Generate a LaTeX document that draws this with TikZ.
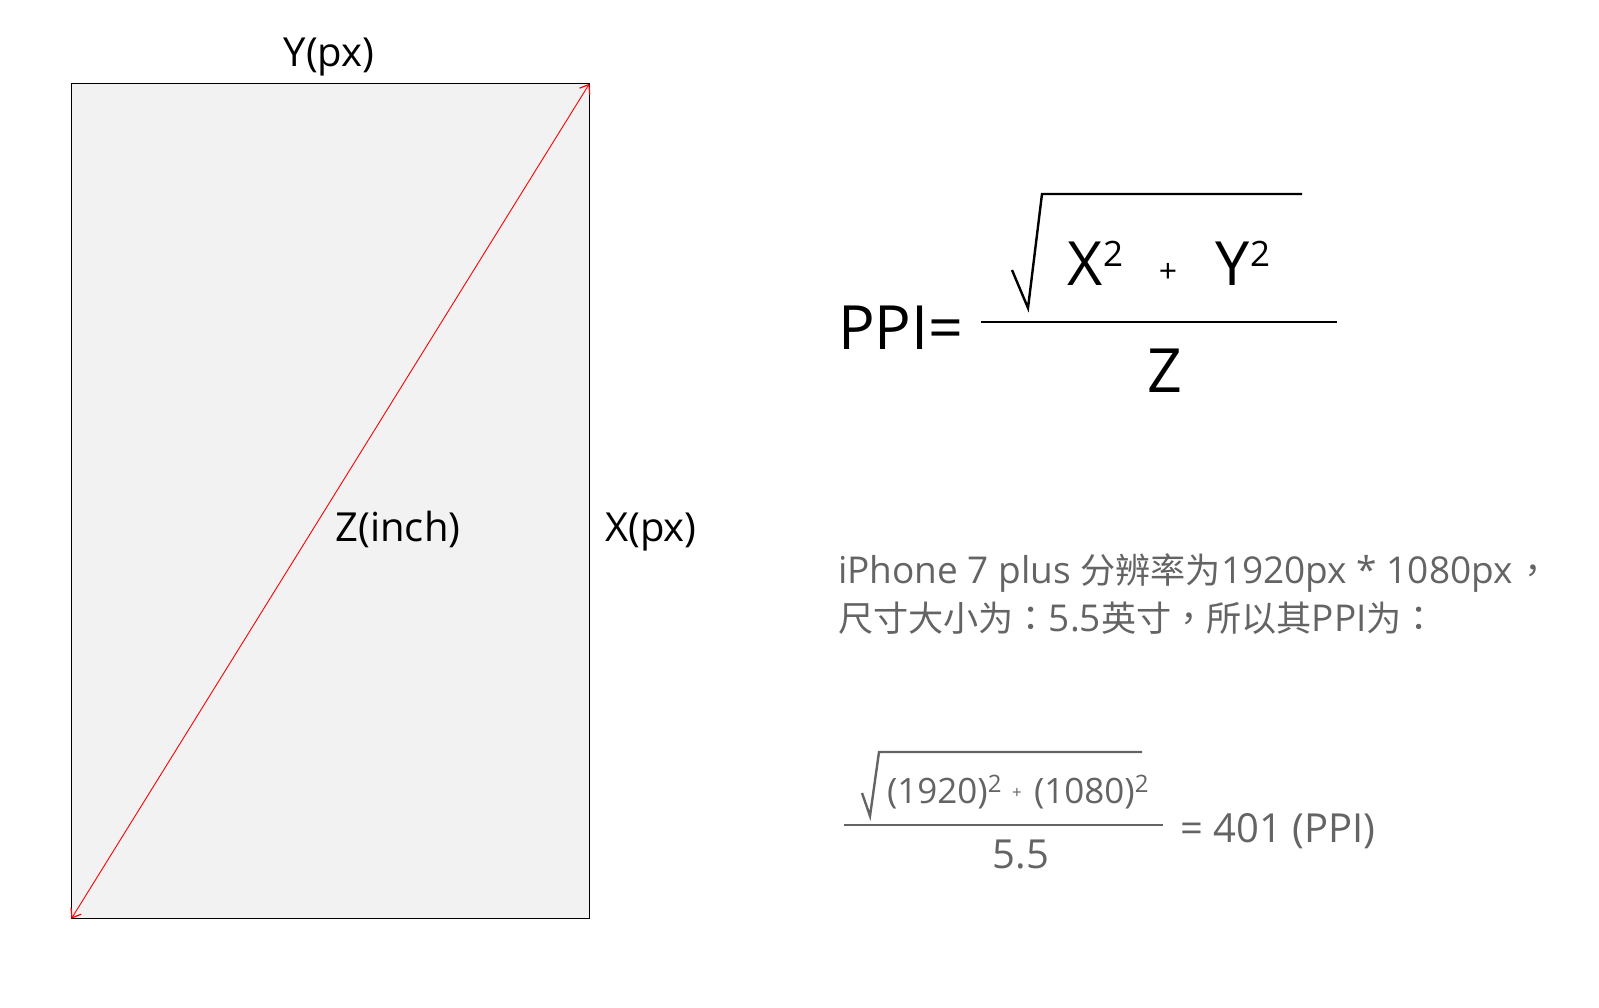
\documentclass[tikz,border=0pt]{standalone}
\usepackage{fontspec}
\setmainfont{Open Sans}
\newfontfamily\cjk[Scale=0.95]{Noto Sans CJK SC}
\newfontfamily\cjkpunct[Scale=0.95]{Noto Sans CJK TC}
\usetikzlibrary{arrows.meta, positioning}
\definecolor{screenfill}{RGB}{242,242,242}
\definecolor{notegray}{RGB}{100,100,100}
\newcommand\expo{\raisebox{11pt}{\fontsize{24}{24}\selectfont 2}}
\tikzset{
	every node/.style={
		inner sep=0pt,
		outer sep=0pt
	},
	screen/.style={
		shape=rectangle,
		draw=black,
		fill=screenfill,
		line width=0.9pt,
		minimum width=518pt,
		minimum height=835pt
	},
	diagonal/.style={
		draw=red,
		line width=0.9pt,
		{Straight Barb[length=8pt,width=12pt,line width=1.2pt]}-{Straight Barb[length=8pt,width=12pt,line width=1.2pt]}
	},
	side/.style={
		font=\fontsize{40}{40}\selectfont
	},
	formula/.style={
		font=\fontsize{61}{61}\selectfont
	},
	exponent/.style={
		font=\fontsize{35}{35}\selectfont
	},
	plus/.style={
		font=\fontsize{32}{32}\selectfont
	},
	root/.style={
		draw=black,
		line width=2.4pt
	},
	note/.style={
		text=notegray,
		font=\fontsize{37}{37}\selectfont
	},
	worked/.style={
		text=notegray,
		font=\fontsize{35}{35}\selectfont
	},
	worked big/.style={
		text=notegray,
		font=\fontsize{40}{40}\selectfont
	},
	worked plus/.style={
		text=notegray,
		font=\fontsize{17}{17}\selectfont
	},
	worked root/.style={
		draw=notegray,
		line width=2.4pt
	}
}

\begin{document}
\begin{tikzpicture}[x=1pt, y=-1pt]
	\useasboundingbox (0,0) rectangle (1599,1008);
	
	% screen with its diagonal
	\node[screen] (screen) at (330.4,501.2) {};
	\draw[diagonal] (screen.south west) -- (screen.north east);
	\node[side, anchor=base] (ylab) at (329,66.5) {Y(px)};
	\node[side, anchor=base] (zlab) at (398,541.5) {Z(inch)};
	\node[side, anchor=base] (xlab) at (651,541.5) {X(px)};
	
	% PPI formula
	\node[formula, anchor=base west] (ppi) at (838,350) {PPI=};
	\coordinate (tick) at (1012,270);
	\coordinate (vee) at (1028,308);
	\coordinate (hook) at (1042,194);
	\coordinate (lid) at (1302,194);
	\draw[root] (tick) -- (vee) -- (hook) -- (lid);
	\node[formula, anchor=base west] (xvar) at (1067,286) {X};
	\node[exponent, anchor=north west] (xexp) at ([xshift=1pt, yshift=1pt]xvar.north east) {2};
	\node[plus] (add) at (1168,273) {+};
	\node[formula, anchor=base west] (yvar) at (1215,286) {Y};
	\node[exponent, anchor=north west] (yexp) at ([xshift=1pt, yshift=1pt]yvar.north east) {2};
	\coordinate (barL) at (981,322);
	\coordinate (barR) at (1337,322);
	\draw[root] (barL) -- (barR);
	\node[formula, anchor=base] (zvar) at (1165,392) {Z};
	
	% iPhone 7 plus
	\node[note, anchor=base west] (noteA) at (838,583) {iPhone 7 plus {\cjk 分辨率为}1920px * 1080px\kern3pt{\cjkpunct ，}};
	\node[note, anchor=base west] (noteB) at ([yshift=-48pt]noteA.base west) {{\cjk 尺寸大小为}{\cjkpunct ：}5.5{\cjk 英寸}{\cjkpunct ，}{\cjk 所以其}PPI{\cjk 为}{\cjkpunct ：}};
	
	\coordinate (tick2) at (862,793);
	\coordinate (vee2) at (870,816);
	\coordinate (hook2) at (879,752);
	\coordinate (lid2) at (1142,752);
	\draw[worked root] (tick2) -- (vee2) -- (hook2) -- (lid2);
	\node[worked, anchor=base west] (wide) at (887,803) {(1920)\expo};
	\node[worked plus] (add2) at (1017,793) {+};
	\node[worked, anchor=base west] (tall) at (1034,803) {(1080)\expo};
	\coordinate (bar2L) at (844,825);
	\coordinate (bar2R) at (1163,825);
	\draw[worked root] (bar2L) -- (bar2R);
	\node[worked big, anchor=base] (inch) at (1021,868) {5.5};
	\node[worked big, anchor=base west] (result) at (1180,842.5) {= 401 (PPI)};
	
\end{tikzpicture}
\end{document}
